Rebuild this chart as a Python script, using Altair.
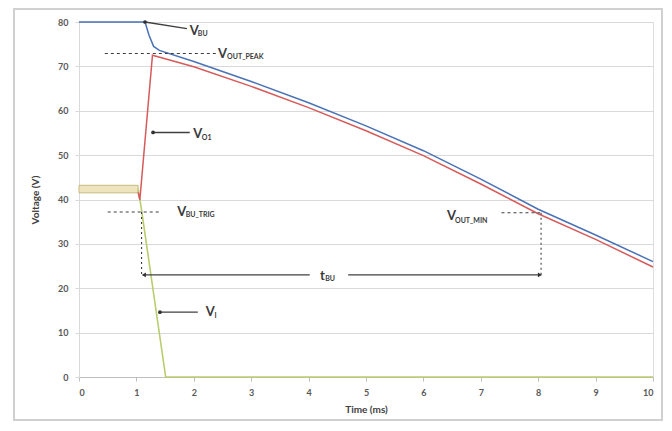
import altair as alt
import pandas as pd

# ---- data ----
t_bu = [0, 1.15, 1.22, 1.3, 1.4, 2, 3, 4, 5, 6, 7, 8, 9, 10]
v_bu = [80, 80, 77, 74.5, 73.6, 71.1, 66.6, 61.8, 56.6, 51.0, 44.6, 37.8, 32.0, 26.0]

t_o1 = [1.03, 1.06, 1.28, 2, 3, 4, 5, 6, 7, 8, 9, 10]
v_o1 = [41.6, 39.9, 72.5, 69.9, 65.5, 60.7, 55.5, 49.9, 43.5, 36.8, 31.0, 24.8]

t_i = [1.03, 1.09, 1.51, 10]
v_i = [42.4, 37.6, 0, 0]

band_t = [0, 1.03]
band_v = [41.5, 43.2]

x_ticks = list(range(0, 11))
y_ticks = list(range(0, 81, 10))

FONT = "Lato"
TXT = "#3a3a3a"

X = alt.X("t:Q", scale=alt.Scale(domain=[0, 10], nice=False),
          axis=alt.Axis(values=x_ticks, title="Time (ms)", grid=False, format="d",
                        tickSize=4, tickColor="#bfbfbf", domainColor="#bfbfbf",
                        labelFont=FONT, labelFontWeight="bold", labelFontSize=9,
                        labelColor="#595959", labelPadding=7,
                        titleFont=FONT, titleFontWeight="bold", titleFontSize=10,
                        titleColor="#404040", titlePadding=7))
Y = alt.Y("v:Q", scale=alt.Scale(domain=[0, 80], nice=False),
          axis=alt.Axis(values=y_ticks, title="Voltage (V)", grid=True,
                        gridColor="#d9d9d9", tickSize=4, tickColor="#d9d9d9",
                        domainColor="#d9d9d9",
                        labelFont=FONT, labelFontWeight="bold", labelFontSize=9,
                        labelColor="#595959", labelPadding=7,
                        titleFont=FONT, titleFontWeight="bold", titleFontSize=10,
                        titleColor="#404040", titlePadding=17))

def line_df(ts, vs):
    return pd.DataFrame({"t": ts, "v": vs})

frame = alt.Chart(pd.DataFrame({"a": [0]})).mark_rect(
    fill="white", fillOpacity=0, stroke="#d0d0d0", strokeWidth=2).encode(
    x=alt.value(-65), x2=alt.value(583), y=alt.value(-13), y2=alt.value(398))

base = alt.Chart(line_df([0, 10], [0, 80])).mark_point(opacity=0).encode(x=X, y=Y)

band = alt.Chart(pd.DataFrame({"t": [band_t[0]], "t2": [band_t[1]],
                               "v": [band_v[0]], "v2": [band_v[1]]})).mark_rect(
    fill="#eee4bd", stroke="#c9b97f", strokeWidth=1).encode(
    x="t:Q", x2="t2:Q", y="v:Q", y2="v2:Q")

vi_line = alt.Chart(line_df(t_i, v_i)).mark_line(color="#b9cc6e", strokeWidth=1.6).encode(
    x="t:Q", y="v:Q", order="t:Q")
vo1_line = alt.Chart(line_df(t_o1, v_o1)).mark_line(color="#d65a5a", strokeWidth=1.5).encode(
    x="t:Q", y="v:Q", order="t:Q")
vbu_line = alt.Chart(line_df(t_bu, v_bu)).mark_line(color="#4a72b5", strokeWidth=1.5).encode(
    x="t:Q", y="v:Q", order="t:Q")

# annotation segments
seg_solid = pd.DataFrame({
    "t": [1.15, 1.29, 1.41, 1.12, 4.69],
    "t2": [1.88, 1.93, 2.07, 4.02, 8.02],
    "v": [80, 55.1, 14.6, 23.0, 23.0],
    "v2": [78.5, 55.1, 14.6, 23.0, 23.0],
})
seg_dash = pd.DataFrame({
    "t": [0.45, 0.5, 7.36],
    "t2": [2.39, 1.44, 8.03],
    "v": [72.9, 37.2, 37.0],
    "v2": [72.9, 37.2, 37.0],
})
seg_dot = pd.DataFrame({
    "t": [1.09, 8.05],
    "t2": [1.09, 8.05],
    "v": [37.2, 37.0],
    "v2": [23.0, 23.0],
})
solid = alt.Chart(seg_solid).mark_rule(color="#404040", strokeWidth=1.3).encode(
    x="t:Q", x2="t2:Q", y="v:Q", y2="v2:Q")
dash = alt.Chart(seg_dash).mark_rule(color="#404040", strokeWidth=1.1, strokeDash=[3, 3]).encode(
    x="t:Q", x2="t2:Q", y="v:Q", y2="v2:Q")
dot = alt.Chart(seg_dot).mark_rule(color="#404040", strokeWidth=1.1, strokeDash=[2, 3]).encode(
    x="t:Q", x2="t2:Q", y="v:Q", y2="v2:Q")

dots = alt.Chart(pd.DataFrame({"t": [1.15, 1.29, 1.41], "v": [80, 55.1, 14.6]})).mark_circle(
    color="#303030", size=14, opacity=1).encode(x="t:Q", y="v:Q")
head_l = alt.Chart(pd.DataFrame({"t": [1.13], "v": [23.0]})).mark_point(
    shape="triangle-left", filled=True, color="#303030", size=22, opacity=1).encode(x="t:Q", y="v:Q")
head_r = alt.Chart(pd.DataFrame({"t": [8.03], "v": [23.0]})).mark_point(
    shape="triangle-right", filled=True, color="#303030", size=22, opacity=1).encode(x="t:Q", y="v:Q")

main_txt = pd.DataFrame({
    "t": [1.93, 2.42, 1.99, 1.71, 6.41, 2.21, 4.2],
    "v": [77.9, 72.9, 54.8, 37.2, 36.2, 14.6, 22.8],
    "text": ["V", "V", "V", "V", "V", "V", "t"],
})
sub_txt = pd.DataFrame({
    "t": [2.07, 2.58, 2.14, 1.86, 6.55, 2.36, 4.29],
    "v": [77.2, 72.1, 53.8, 36.4, 35.2, 13.8, 22.0],
    "text": ["BU", "OUT_PEAK", "O1", "BU_TRIG", "OUT_MIN", "I", "BU"],
})
main_labels = alt.Chart(main_txt).mark_text(
    font=FONT, fontWeight="bold", fontSize=13, color=TXT, align="left", baseline="middle").encode(
    x="t:Q", y="v:Q", text="text:N")
sub_labels = alt.Chart(sub_txt).mark_text(
    font=FONT, fontWeight="bold", fontSize=7, color=TXT, align="left", baseline="middle").encode(
    x="t:Q", y="v:Q", text="text:N")

chart = alt.layer(
    frame, base, band, vi_line, vo1_line, vbu_line,
    solid, dash, dot, dots, head_l, head_r, main_labels, sub_labels
).properties(
    width=574, height=355,
    autosize=alt.AutoSizeParams(type="none"),
    padding={"left": 71, "top": 14, "right": 11, "bottom": 46},
).configure_view(stroke=None).configure(background="white")

chart.save("out.html", embed_options={"renderer": "svg", "actions": False})
